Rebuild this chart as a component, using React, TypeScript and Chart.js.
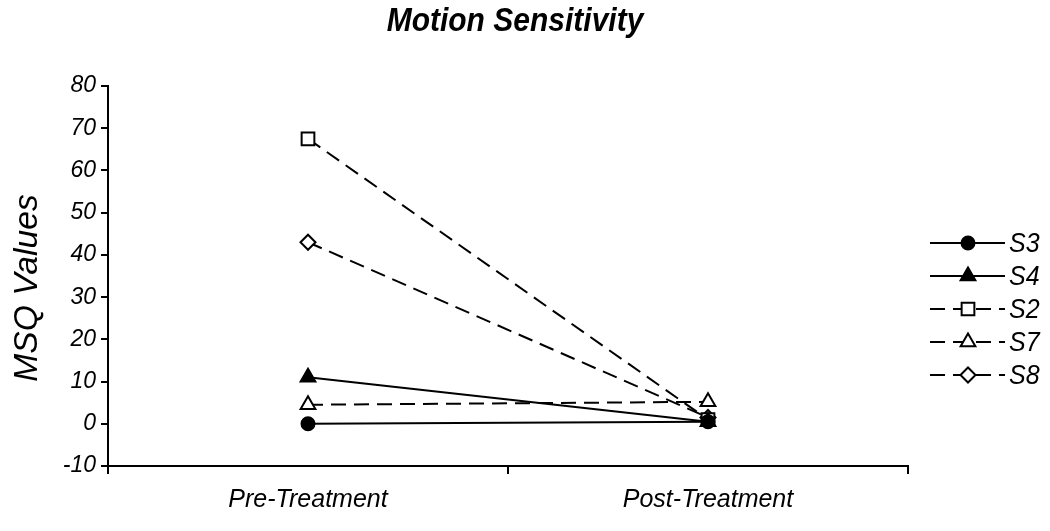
import React, { useEffect, useRef } from 'react';
import { Chart, registerables } from 'chart.js';

Chart.register(...registerables);

// ---- data ----
const categories = ['Pre-Treatment', 'Post-Treatment'];
const seriesNames = ['S3', 'S4', 'S2', 'S7', 'S8'];
const s3Values = [0, 0.5];
const s4Values = [11, 0.5];
const s2Values = [67.5, 1];
const s7Values = [4.5, 5.2];
const s8Values = [43, 1.5];
const yMin = -10;
const yMax = 80;
const yStep = 10;
const chartTitle = 'Motion Sensitivity';
const yAxisTitle = 'MSQ Values';

const FONT = '"Liberation Sans", Arial, sans-serif';

function drawMarker(ctx: CanvasRenderingContext2D, style: string, x: number, y: number, r: number, fill: string) {
  ctx.save();
  ctx.setLineDash([]);
  ctx.lineWidth = 2;
  ctx.strokeStyle = '#000';
  ctx.fillStyle = fill;
  ctx.beginPath();
  if (style === 'circle') {
    ctx.arc(x, y, r, 0, Math.PI * 2);
  } else if (style === 'triangle') {
    let rad = 0;
    ctx.moveTo(x + Math.sin(rad) * r, y - Math.cos(rad) * r);
    rad += (2 * Math.PI) / 3;
    ctx.lineTo(x + Math.sin(rad) * r, y - Math.cos(rad) * r);
    rad += (2 * Math.PI) / 3;
    ctx.lineTo(x + Math.sin(rad) * r, y - Math.cos(rad) * r);
    ctx.closePath();
  } else if (style === 'rect') {
    const s = Math.SQRT1_2 * r;
    ctx.rect(x - s, y - s, 2 * s, 2 * s);
  } else if (style === 'rectRot') {
    ctx.moveTo(x - r, y);
    ctx.lineTo(x, y + r);
    ctx.lineTo(x + r, y);
    ctx.lineTo(x, y - r);
    ctx.closePath();
  }
  ctx.fill();
  ctx.stroke();
  ctx.restore();
}

// draws text slightly stretched vertically, like the reference's condensed look
function tallText(ctx: CanvasRenderingContext2D, text: string, x: number, y: number, sy: number) {
  ctx.save();
  ctx.translate(x, y);
  ctx.scale(1, sy);
  ctx.fillText(text, 0, 0);
  ctx.restore();
}

const overlayPlugin = {
  id: 'overlay',
  afterDraw(chart: any) {
    const ctx: CanvasRenderingContext2D = chart.ctx;
    const area = chart.chartArea;
    ctx.save();
    ctx.fillStyle = '#000';
    ctx.textAlign = 'center';
    ctx.textBaseline = 'middle';
    ctx.font = `italic bold 30px ${FONT}`;
    tallText(ctx, chartTitle, area.left + (area.right - area.left) / 2 + 7, 22, 1.1);

    ctx.save();
    ctx.translate(28, area.top + (area.bottom - area.top) / 2 + 12);
    ctx.rotate(-Math.PI / 2);
    ctx.font = `italic 32px ${FONT}`;
    ctx.scale(1.05, 1.05);
    ctx.fillText(yAxisTitle, 0, 0);
    ctx.restore();

    const lx0 = area.right + 22;
    const lx1 = area.right + 97;
    const mx = area.right + 60;
    chart.data.datasets.forEach((ds: any, i: number) => {
      const y = 243 + 33 * i;
      ctx.save();
      ctx.strokeStyle = '#000';
      ctx.lineWidth = 2;
      ctx.setLineDash(ds.borderDash || []);
      ctx.beginPath();
      ctx.moveTo(lx0, y);
      ctx.lineTo(lx1, y);
      ctx.stroke();
      ctx.restore();
      drawMarker(ctx, ds.pointStyle, mx, y, ds.pointRadius, ds.pointBackgroundColor);
      ctx.font = `italic 25px ${FONT}`;
      ctx.textAlign = 'left';
      ctx.fillStyle = '#000';
      tallText(ctx, ds.label, lx1 + 4, y + 1, 1.1);
    });
    ctx.restore();
  },
};

export default function App() {
  const canvasRef = useRef<HTMLCanvasElement | null>(null);

  useEffect(() => {
    if (!canvasRef.current) return;
    const seriesValues = [s3Values, s4Values, s2Values, s7Values, s8Values];
    const styles = [
      { pointStyle: 'circle', fill: '#000', dash: [], r: 6.5 },
      { pointStyle: 'triangle', fill: '#000', dash: [], r: 8.5 },
      { pointStyle: 'rect', fill: '#fff', dash: [15, 8], r: 9 },
      { pointStyle: 'triangle', fill: '#fff', dash: [15, 8], r: 8.5 },
      { pointStyle: 'rectRot', fill: '#fff', dash: [15, 8], r: 7.5 },
    ];
    const datasets = seriesNames.map((name, i) => ({
      label: name,
      data: seriesValues[i],
      borderColor: '#000',
      borderWidth: 2,
      borderDash: styles[i].dash,
      pointStyle: styles[i].pointStyle,
      pointRadius: styles[i].r,
      pointBackgroundColor: styles[i].fill,
      pointBorderColor: '#000',
      pointBorderWidth: 2,
      fill: false,
      tension: 0,
    }));

    const chart = new Chart(canvasRef.current, {
      type: 'line',
      data: { labels: categories, datasets: datasets as any },
      options: {
        animation: false,
        responsive: true,
        maintainAspectRatio: false,
        layout: { padding: { top: 86, right: 142, left: 0, bottom: 0 } },
        plugins: {
          legend: { display: false },
          title: { display: false },
          tooltip: { enabled: false },
        },
        scales: {
          x: {
            type: 'category',
            offset: true,
            grid: {
              offset: true,
              drawOnChartArea: false,
              drawTicks: true,
              tickLength: 8,
              color: '#000',
              lineWidth: 2,
            },
            border: { display: true, color: '#000', width: 2 },
            ticks: {
              color: '#000',
              font: { family: FONT, size: 25, style: 'italic' },
              padding: 11,
              maxRotation: 0,
            },
            afterFit: (scale: any) => {
              scale.height = 65;
            },
          },
          y: {
            min: yMin,
            max: yMax,
            grid: {
              drawOnChartArea: false,
              drawTicks: true,
              tickLength: 7,
              color: '#000',
              lineWidth: 2,
            },
            border: { display: true, color: '#000', width: 2 },
            ticks: {
              stepSize: yStep,
              color: '#000',
              font: { family: FONT, size: 23, style: 'italic' },
              padding: 5,
            },
            afterFit: (scale: any) => {
              scale.width = 108;
            },
          },
        },
      },
      plugins: [overlayPlugin],
    });
    return () => chart.destroy();
  }, []);

  return (
    <div style={{ position: 'fixed', left: 0, top: 0, width: 1050, height: 531, background: '#fff' }}>
      <canvas ref={canvasRef} />
    </div>
  );
}
